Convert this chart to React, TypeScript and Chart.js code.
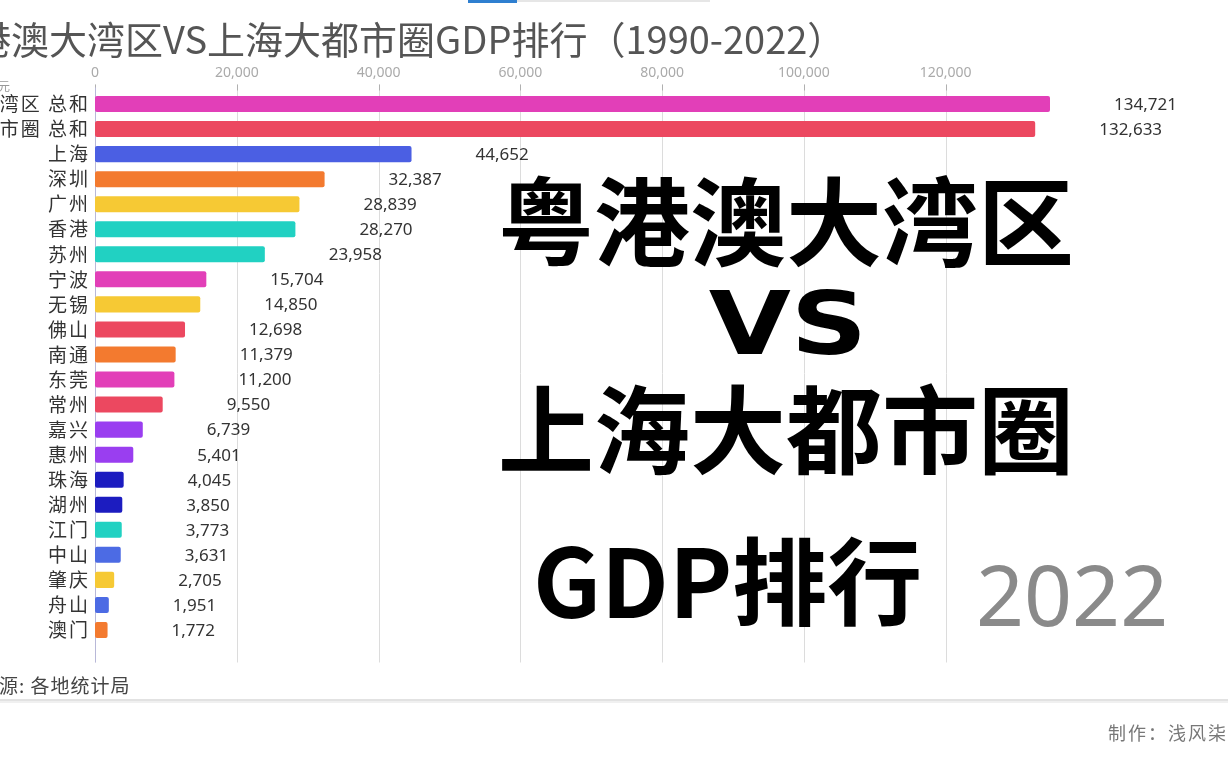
import React, { useEffect, useRef } from "react";
import { Chart, registerables } from "chart.js";

Chart.register(...registerables);

const cities = [
  "粤港澳大湾区 总和",
  "上海大都市圈 总和",
  "上海",
  "深圳",
  "广州",
  "香港",
  "苏州",
  "宁波",
  "无锡",
  "佛山",
  "南通",
  "东莞",
  "常州",
  "嘉兴",
  "惠州",
  "珠海",
  "湖州",
  "江门",
  "中山",
  "肇庆",
  "舟山",
  "澳门",
];

const gdp2022 = [
  134721, 132633, 44652, 32387, 28839, 28270, 23958, 15704, 14850, 12698, 11379,
  11200, 9550, 6739, 5401, 4045, 3850, 3773, 3631, 2705, 1951, 1772,
];

const barColors = [
  "#e23fb8", "#ec4860", "#4b5fe3", "#f37a2f", "#f6c934", "#21d1c2", "#21d1c2",
  "#e23fb8", "#f6c934", "#ec4860", "#f37a2f", "#e23fb8", "#ec4860", "#9a3ef0",
  "#9a3ef0", "#1c1cc0", "#1c1cc0", "#21d1c2", "#4c6be4", "#f6c934", "#4c6be4",
  "#f37a2f",
];

const xTickStep = 20000;
const titleText = "粤港澳大湾区VS上海大都市圈GDP排行（1990-2022）";
const yearText = "2022";
const unitText = "单位：亿元";
const sourceText = "数据来源: 各地统计局";
const authorText = "制作：浅风柒";

const CJK = '"Noto Sans CJK SC", "Noto Sans", sans-serif';
const LATIN = '"Noto Sans", "Noto Sans CJK SC", sans-serif';

const decorPlugin = {
  id: "decor",
  beforeDraw(chart: any) {
    chart.ctx.letterSpacing = "2px";
  },
  beforeDatasetsDraw(chart: any) {
    const { ctx, chartArea } = chart;
    ctx.letterSpacing = "0px";
    const xs = chart.scales.x;
    ctx.save();
    xs.ticks.forEach((t: any) => {
      const px = Math.round(xs.getPixelForValue(t.value)) + 0.5;
      ctx.strokeStyle = "#dcdcdc";
      ctx.lineWidth = 1;
      ctx.beginPath();
      ctx.moveTo(px, chartArea.top - 7);
      ctx.lineTo(px, chartArea.bottom + 20);
      ctx.stroke();
      ctx.strokeStyle = "#b0b0b0";
      ctx.beginPath();
      ctx.moveTo(px, chartArea.top - 7);
      ctx.lineTo(px, chartArea.top - 1);
      ctx.stroke();
    });
    const x0 = Math.round(xs.getPixelForValue(0)) + 0.5;
    ctx.strokeStyle = "#b8b8d8";
    ctx.beginPath();
    ctx.moveTo(x0, chartArea.top - 4);
    ctx.lineTo(x0, chartArea.bottom + 20);
    ctx.stroke();
    ctx.restore();
  },
  afterDatasetsDraw(chart: any) {
    const { ctx } = chart;
    ctx.letterSpacing = "0px";
    const meta = chart.getDatasetMeta(0);
    ctx.save();
    ctx.font = `17px ${LATIN}`;
    ctx.fillStyle = "#333";
    ctx.textAlign = "left";
    ctx.textBaseline = "middle";
    meta.data.forEach((bar: any, i: number) => {
      ctx.fillText(gdp2022[i].toLocaleString("en-US"), bar.x + 64, bar.y + 1);
    });
    ctx.restore();
  },
  afterDraw(chart: any) {
    const { ctx, width } = chart;
    ctx.save();
    ctx.letterSpacing = "0px";
    ctx.fillStyle = "#e6e6e6";
    ctx.fillRect(517, 0, 193, 2);
    ctx.fillStyle = "#2f7fd0";
    ctx.fillRect(468, 0, 49, 3);

    // title
    ctx.font = `38px ${CJK}`;
    ctx.fillStyle = "#555";
    ctx.textAlign = "left";
    ctx.textBaseline = "middle";
    const pre = ctx.measureText("粤港").width;
    ctx.fillText(titleText, 11 - pre, 40);

    // unit
    ctx.font = `12px ${CJK}`;
    ctx.fillStyle = "#999";
    ctx.textAlign = "right";
    ctx.fillText(unitText, 10, 86);

    // source
    ctx.letterSpacing = "1px";
    ctx.font = `19px ${CJK}`;
    ctx.fillStyle = "#444";
    ctx.textAlign = "left";
    const pre2 = ctx.measureText("数据来").width;
    ctx.fillText(sourceText, -1 - pre2, 686);

    ctx.letterSpacing = "0px";
    ctx.fillStyle = "#e2e2e2";
    ctx.fillRect(0, 699, width, 2);
    ctx.fillStyle = "#f0f0f0";
    ctx.fillRect(0, 701, width, 2);

    // author
    ctx.letterSpacing = "2px";
    ctx.font = `18px ${CJK}`;
    ctx.fillStyle = "#777";
    ctx.textAlign = "right";
    ctx.fillText(authorText, 1228, 733);
    ctx.letterSpacing = "0px";

    // big overlay text
    ctx.fillStyle = "#000";
    ctx.textAlign = "center";
    ctx.font = `bold 96px ${CJK}`;
    ctx.fillText("粤港澳大湾区", 786, 222);
    ctx.save();
    ctx.translate(788, 331);
    ctx.scale(1.22, 1);
    ctx.font = `bold 87px "DejaVu Sans", sans-serif`;
    ctx.fillText("VS", 0, 0);
    ctx.restore();
    ctx.font = `bold 96px ${CJK}`;
    ctx.fillText("上海大都市圈", 786, 430);
    ctx.textAlign = "left";
    ctx.font = `bold 95px ${CJK}`;
    ctx.fillText("GDP排行", 533, 582);

    // year
    ctx.font = `84px ${LATIN}`;
    ctx.fillStyle = "#8a8a8a";
    ctx.textAlign = "left";
    ctx.fillText(yearText, 976, 602);
    ctx.restore();
  },
};

export default function App() {
  const ref = useRef<HTMLCanvasElement>(null);
  useEffect(() => {
    if (!ref.current) return;
    const chart = new Chart(ref.current, {
      type: "bar",
      data: {
        labels: cities,
        datasets: [
          {
            data: gdp2022,
            backgroundColor: barColors,
            borderRadius: 2,
            borderSkipped: false,
            categoryPercentage: 1,
            barPercentage: 0.64,
          },
        ],
      },
      options: {
        indexAxis: "y",
        animation: false,
        responsive: false,
        devicePixelRatio: 1,
        layout: { padding: { left: 0, right: 178, top: 50, bottom: 125.5 } },
        plugins: {
          legend: { display: false },
          tooltip: { enabled: false },
          title: { display: false },
        },
        scales: {
          x: {
            position: "top",
            min: 0,
            max: Math.max(...gdp2022),
            grid: { display: false, z: 1 },
            border: { display: false, z: 1 },
            afterBuildTicks: (axis: any) => {
              const out: any[] = [];
              for (let v = 0; v <= axis.max; v += xTickStep) out.push({ value: v });
              axis.ticks = out;
            },
            afterFit: (axis: any) => {
              axis.height = 41.5;
            },
            ticks: {
              z: 1,
              font: { family: LATIN, size: 14 },
              color: "#aaa",
              padding: 2,
              maxRotation: 0,
              callback: (v: any) => Number(v).toLocaleString("en-US"),
            },
          },
          y: {
            grid: { display: false, drawTicks: false },
            border: { display: false },
            afterFit: (axis: any) => {
              axis.width = 95;
            },
            ticks: {
              autoSkip: false,
              font: { family: CJK, size: 19 },
              color: "#333",
              padding: 5,
            },
          },
        },
      },
      plugins: [decorPlugin],
    });
    return () => chart.destroy();
  }, []);
  return (
    <div style={{ position: "fixed", left: 0, top: 0, width: 1228, height: 768, background: "#fff" }}>
      <canvas ref={ref} width={1228} height={768} style={{ width: 1228, height: 768, display: "block" }} />
    </div>
  );
}
